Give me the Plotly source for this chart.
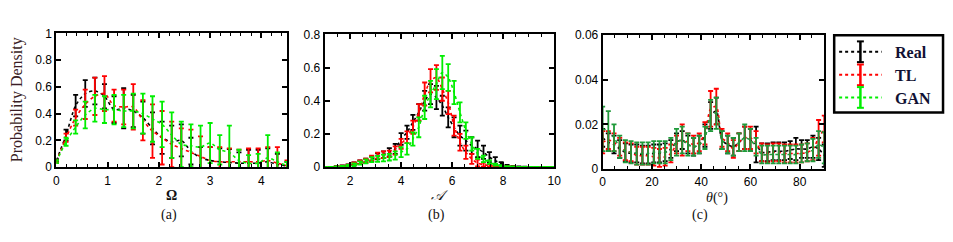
import plotly.graph_objects as go

W, H = 953, 242

# ---------------- Data ----------------
# Panel (a): Omega
omega_x = [i * 4.5 / 24 for i in range(25)]
omega_real = [0.05, 0.24, 0.46, 0.55, 0.57, 0.53, 0.43, 0.44, 0.42, 0.37, 0.29, 0.22, 0.19,
              0.20, 0.12, 0.07, 0.05, 0.04, 0.035, 0.03, 0.03, 0.03, 0.04, 0.02, 0.01]
omega_real_err = [0.01, 0.04, 0.08, 0.10, 0.10, 0.09, 0.10, 0.15, 0.12, 0.12, 0.12, 0.12, 0.12,
                  0.12, 0.10, 0.08, 0.10, 0.10, 0.10, 0.08, 0.10, 0.10, 0.10, 0.08, 0.03]
omega_tl = [0.04, 0.22, 0.37, 0.47, 0.53, 0.55, 0.46, 0.45, 0.45, 0.35, 0.27, 0.22, 0.17,
            0.14, 0.11, 0.08, 0.05, 0.04, 0.04, 0.04, 0.04, 0.04, 0.05, 0.03, 0.01]
omega_tl_err = [0.01, 0.03, 0.06, 0.11, 0.14, 0.13, 0.12, 0.13, 0.17, 0.15, 0.20, 0.20, 0.17,
                0.15, 0.17, 0.15, 0.10, 0.11, 0.10, 0.09, 0.10, 0.10, 0.10, 0.12, 0.04]
omega_gan = [0.04, 0.19, 0.30, 0.39, 0.44, 0.43, 0.43, 0.42, 0.42, 0.40, 0.36, 0.32, 0.24,
             0.17, 0.16, 0.15, 0.18, 0.13, 0.11, 0.05, 0.03, 0.03, 0.07, 0.04, 0.01]
omega_gan_err = [0.01, 0.03, 0.05, 0.10, 0.10, 0.10, 0.11, 0.12, 0.13, 0.15, 0.17, 0.17, 0.17,
                 0.17, 0.16, 0.16, 0.15, 0.11, 0.20, 0.08, 0.06, 0.07, 0.17, 0.07, 0.03]

# Panel (b): A
a_x = [1 + i * 9 / 39 for i in range(40)]
a_real = [0, 0, 0.003, 0.006, 0.012, 0.02, 0.03, 0.04, 0.05, 0.065, 0.075, 0.09, 0.11, 0.17,
          0.21, 0.27, 0.33, 0.40, 0.44, 0.42, 0.37, 0.30, 0.24, 0.19, 0.16, 0.13, 0.11, 0.09,
          0.06, 0.04, 0.02, 0.008, 0.004, 0.002, 0.001, 0.001, 0, 0, 0, 0]
a_real_err = [0.002, 0.002, 0.003, 0.004, 0.005, 0.008, 0.01, 0.012, 0.015, 0.018, 0.02, 0.025,
              0.03, 0.035, 0.04, 0.045, 0.05, 0.06, 0.06, 0.07, 0.06, 0.06, 0.06, 0.06, 0.06,
              0.05, 0.05, 0.04, 0.03, 0.02, 0.01, 0.005, 0.003, 0.002, 0.002, 0.001, 0.001,
              0.001, 0.001, 0.001]
a_tl = [0, 0, 0.002, 0.005, 0.01, 0.02, 0.03, 0.04, 0.055, 0.07, 0.075, 0.08, 0.10, 0.14,
        0.18, 0.24, 0.33, 0.44, 0.52, 0.54, 0.47, 0.39, 0.25, 0.15, 0.09, 0.05, 0.025, 0.015,
        0.01, 0.005, 0.003, 0.002, 0.002, 0.001, 0.001, 0.001, 0.001, 0, 0, 0]
a_tl_err = [0.002, 0.002, 0.003, 0.004, 0.005, 0.008, 0.01, 0.012, 0.015, 0.018, 0.02, 0.02,
            0.025, 0.03, 0.035, 0.04, 0.05, 0.07, 0.07, 0.075, 0.07, 0.07, 0.06, 0.05, 0.04,
            0.03, 0.02, 0.012, 0.008, 0.005, 0.003, 0.002, 0.002, 0.001, 0.001, 0.001, 0.001,
            0.001, 0.001, 0.001]
a_gan = [0, 0, 0.001, 0.003, 0.008, 0.015, 0.025, 0.035, 0.045, 0.05, 0.055, 0.06, 0.07, 0.09,
         0.11, 0.17, 0.24, 0.36, 0.44, 0.50, 0.57, 0.54, 0.45, 0.33, 0.22, 0.14, 0.08, 0.05,
         0.03, 0.015, 0.008, 0.004, 0.002, 0.001, 0.001, 0, 0, 0, 0, 0]
a_gan_err = [0.002, 0.002, 0.003, 0.004, 0.005, 0.008, 0.01, 0.012, 0.015, 0.018, 0.02, 0.02,
             0.025, 0.03, 0.035, 0.04, 0.06, 0.07, 0.08, 0.09, 0.10, 0.08, 0.07, 0.06, 0.05,
             0.04, 0.03, 0.02, 0.01, 0.006, 0.004, 0.002, 0.002, 0.001, 0.001, 0.001, 0.001,
             0.001, 0.001, 0.001]

# Panel (c): theta
t_x = [i * 90 / 39 for i in range(40)]
t_real = [0.014, 0.012, 0.011, 0.009, 0.0075, 0.007, 0.007, 0.0065, 0.0065, 0.007, 0.007,
          0.0075, 0.009, 0.012, 0.013, 0.011, 0.010, 0.011, 0.015, 0.024, 0.026, 0.013, 0.011,
          0.010, 0.012, 0.014, 0.013, 0.011, 0.0075, 0.0075, 0.008, 0.008, 0.008, 0.0085,
          0.009, 0.009, 0.009, 0.010, 0.009, 0.006]
t_real_err = [0.004, 0.004, 0.004, 0.004, 0.004, 0.004, 0.004, 0.004, 0.004, 0.004, 0.004,
              0.004, 0.004, 0.004, 0.004, 0.004, 0.004, 0.004, 0.005, 0.006, 0.006, 0.004,
              0.004, 0.004, 0.004, 0.005, 0.005, 0.008, 0.004, 0.004, 0.004, 0.004, 0.004,
              0.004, 0.005, 0.004, 0.004, 0.005, 0.005, 0.005]
t_tl = [0.012, 0.013, 0.012, 0.010, 0.008, 0.0075, 0.006, 0.006, 0.006, 0.0055, 0.005, 0.0055,
        0.007, 0.011, 0.013, 0.012, 0.011, 0.012, 0.016, 0.027, 0.028, 0.014, 0.012, 0.009,
        0.012, 0.014, 0.014, 0.012, 0.0075, 0.007, 0.0075, 0.0075, 0.007, 0.007, 0.007,
        0.007, 0.0075, 0.009, 0.014, 0.018]
t_tl_err = [0.005, 0.004, 0.004, 0.004, 0.004, 0.004, 0.004, 0.004, 0.004, 0.004, 0.004,
            0.004, 0.004, 0.004, 0.007, 0.004, 0.004, 0.004, 0.005, 0.008, 0.008, 0.004,
            0.004, 0.004, 0.004, 0.005, 0.005, 0.005, 0.004, 0.004, 0.004, 0.004, 0.004,
            0.004, 0.004, 0.004, 0.004, 0.005, 0.008, 0.006]
t_gan = [0.018, 0.017, 0.014, 0.010, 0.008, 0.0075, 0.007, 0.007, 0.007, 0.0075, 0.0075,
         0.0075, 0.009, 0.012, 0.013, 0.011, 0.010, 0.011, 0.014, 0.024, 0.025, 0.013, 0.011,
         0.010, 0.012, 0.014, 0.013, 0.010, 0.0065, 0.0065, 0.0065, 0.0065, 0.0065, 0.0065,
         0.0065, 0.007, 0.0075, 0.0085, 0.011, 0.0095]
t_gan_err = [0.010, 0.009, 0.006, 0.005, 0.005, 0.005, 0.005, 0.005, 0.005, 0.005, 0.005,
             0.005, 0.005, 0.006, 0.006, 0.005, 0.004, 0.004, 0.005, 0.007, 0.007, 0.004,
             0.004, 0.004, 0.004, 0.006, 0.005, 0.004, 0.004, 0.004, 0.004, 0.004, 0.004,
             0.004, 0.004, 0.004, 0.004, 0.005, 0.006, 0.007]

series_names = ["Real", "TL", "GAN"]
colors_ab = ["#000000", "#ff0000", "#00ee00"]
colors_c = ["#000000", "#ff0000", "#1f9a3a"]
x_titles = ["<b>Ω</b>", "<i>𝒜</i>", "<i>θ</i>(°)"]
panel_labels = ["(a)", "(b)", "(c)"]
y_ranges = [[0, 1], [0, 0.8], [0, 0.06]]
x_ranges = [[0, 4.5], [1, 10], [0, 90]]
y_dticks = [0.2, 0.2, 0.02]
x_dticks = [1, 2, 20]
x_minor = [0.2, 0.5, 5]

# ---------------- Layout helpers (pixel -> paper) ----------------
def px(x):
    return x / W

def py(y):
    return 1 - y / H

# plot area boxes in pixels: (left, right, top, bottom)
boxes = [(54, 287, 28, 170), (325, 557, 29, 170), (606, 830, 30, 172)]

fig = go.Figure()

panels = [
    (omega_x, [omega_real, omega_tl, omega_gan], [omega_real_err, omega_tl_err, omega_gan_err], colors_ab),
    (a_x, [a_real, a_tl, a_gan], [a_real_err, a_tl_err, a_gan_err], colors_ab),
    (t_x, [t_real, t_tl, t_gan], [t_real_err, t_tl_err, t_gan_err], colors_c),
]

for k, (xs, ys_list, errs_list, cols) in enumerate(panels):
    xa = "x" if k == 0 else f"x{k+1}"
    ya = "y" if k == 0 else f"y{k+1}"
    for name, ys, es, c in zip(series_names, ys_list, errs_list, cols):
        fig.add_trace(go.Scatter(
            x=xs, y=ys, name=name, mode="lines",
            line=dict(color=c, width=1.6, dash="dot", shape="spline", smoothing=0.8),
            error_y=dict(type="data", array=es, visible=True, color=c, thickness=1.8, width=2.5),
            xaxis=xa, yaxis=ya, showlegend=False, cliponaxis=True,
        ))

tick_font = dict(family="Liberation Sans, Arial, sans-serif", size=12, color="#000")
layout = dict(
    width=W, height=H,
    margin=dict(l=0, r=0, t=0, b=0),
    paper_bgcolor="white", plot_bgcolor="white",
    showlegend=False,
)

for k in range(3):
    l, r, t, b = boxes[k]
    xkey = "xaxis" if k == 0 else f"xaxis{k+1}"
    ykey = "yaxis" if k == 0 else f"yaxis{k+1}"
    anchor_x = "y" if k == 0 else f"y{k+1}"
    anchor_y = "x" if k == 0 else f"x{k+1}"
    layout[xkey] = dict(
        domain=[px(l), px(r)], anchor=anchor_x, range=x_ranges[k],
        showline=True, linecolor="#000", linewidth=2, mirror="ticks",
        ticks="inside", ticklen=5, tickwidth=1.5, tickcolor="#000",
        dtick=x_dticks[k], tick0=0, showgrid=False, zeroline=False,
        tickfont=tick_font, ticklabelstandoff=1,
        minor=dict(dtick=x_minor[k], ticks="inside", ticklen=3, tickwidth=1, tickcolor="#000"),
    )
    layout[ykey] = dict(
        domain=[py(b), py(t)], anchor=anchor_y, range=y_ranges[k],
        showline=True, linecolor="#000", linewidth=2, mirror="ticks",
        ticks="inside", ticklen=5, tickwidth=1.5, tickcolor="#000",
        dtick=y_dticks[k], tick0=0, showgrid=False, zeroline=False,
        tickfont=tick_font,
    )

fig.update_layout(**layout)

annotations = []
serif = "Liberation Serif, DejaVu Serif, serif"
# axis titles
for k, (xt, cx, cy) in enumerate(zip(x_titles, [170, 441, 722], [200, 200, 203])):
    annotations.append(dict(x=px(cx), y=py(cy), xref="paper", yref="paper", text=xt,
                            showarrow=False, font=dict(family=serif, size=14, color="#111"),
                            xanchor="center", yanchor="middle"))
for lab, cx in zip(panel_labels, [168, 438, 704]):
    annotations.append(dict(x=px(cx), y=py(221), xref="paper", yref="paper", text=lab,
                            showarrow=False, font=dict(family=serif, size=14, color="#111"),
                            xanchor="center", yanchor="middle"))
annotations.append(dict(x=px(14), y=py(98), xref="paper", yref="paper",
                        text="Probability Density", textangle=-90, showarrow=False,
                        font=dict(family=serif, size=16, color="#3b1e26"),
                        xanchor="center", yanchor="middle"))

# custom legend
shapes = [dict(type="rect", xref="paper", yref="paper", x0=px(840), x1=px(950), y0=py(112), y1=py(30),
               line=dict(color="#000", width=2.5), fillcolor="white", layer="above")]
leg_cols = ["#000000", "#ff0000", "#00ee00"]
for name, c, cy in zip(series_names, leg_cols, [47.5, 72, 96]):
    shapes.append(dict(type="line", xref="paper", yref="paper", x0=px(845), x1=px(888), y0=py(cy), y1=py(cy),
                       line=dict(color=c, width=2, dash="dot"), layer="above"))
    shapes.append(dict(type="line", xref="paper", yref="paper", x0=px(866.5), x1=px(866.5),
                       y0=py(cy - 11), y1=py(cy + 11), line=dict(color=c, width=2.5), layer="above"))
    for dy in (-11, 11):
        shapes.append(dict(type="line", xref="paper", yref="paper", x0=px(863), x1=px(870),
                           y0=py(cy + dy), y1=py(cy + dy), line=dict(color=c, width=2), layer="above"))
    annotations.append(dict(x=px(899), y=py(cy + 1), xref="paper", yref="paper", text=f"<b>{name}</b>",
                            showarrow=False, font=dict(family=serif, size=16, color="#111133"),
                            xanchor="left", yanchor="middle"))

fig.update_layout(annotations=annotations, shapes=shapes)
fig.write_html("out.html", config={"displayModeBar": False},
               post_script="document.body.style.margin='0px';document.body.style.overflow='hidden';")
